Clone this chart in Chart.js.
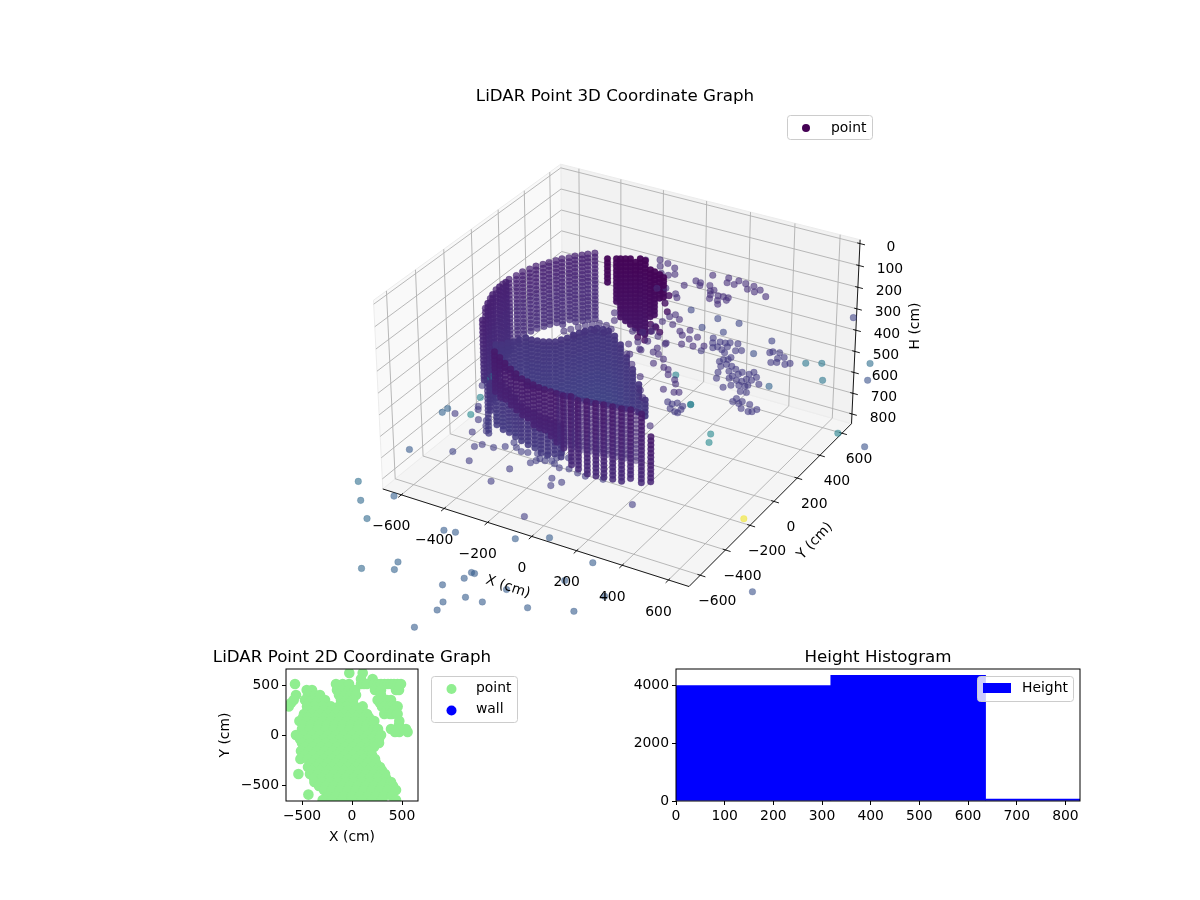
<!DOCTYPE html>
<html>
<head>
<meta charset="utf-8">
<title>LiDAR Point Graphs</title>
<script src="https://cdn.jsdelivr.net/npm/chart.js@4/dist/chart.umd.min.js"></script>
<style>
  body { margin: 0; background: #fff; }
  canvas { position: absolute; }
</style>
</head>
<body>
<canvas id="cloudChart" width="1200" height="637" style="left:0;top:0"></canvas>
<canvas id="planChart" width="380" height="230" style="left:160px;top:640px"></canvas>
<canvas id="histChart" width="520" height="230" style="left:600px;top:640px"></canvas>
<script>
// ---- data (cm) ----
const xTicks = [-600, -400, -200, 0, 200, 400, 600];
const yTicks = [-600, -400, -200, 0, 200, 400, 600];
const hTicks = [0, 100, 200, 300, 400, 500, 600, 700, 800];
const planTicks = [-500, 0, 500];
const histXTicks = [0, 100, 200, 300, 400, 500, 600, 700, 800];
const histYTicks = [0, 2000, 4000];
const scanLevels = [100, 118, 136, 154, 172, 190, 208, 226, 244, 262, 280, 298, 316, 334, 352, 370, 388, 406, 424, 442, 460, 478, 496, 514, 532, 550, 568, 586, 604, 622, 640, 658, 676, 694, 712];

// scan columns
const backWallX = [-271, -291, -307, -327, -340, -360, -372, -388, -400, -416, -425, -437, -441, -449, -449, -447, -428, -402];
const backWallY = [257, 236, 217, 196, 171, 150, 124, 97, 71, 44, 11, -23, -63, -104, -150, -203, -275, -352];
const backWallEnd = [415, 410, 410, 410, 405, 410, 405, 400, 395, 395, 390, 405, 420, 435, 460, 500, 585, 680];

const wallEdgeX = [-360, -415, -437, -448, -447];
const wallEdgeY = [-439, -314, -244, -176, -131];
const wallEdgeEnd = [378, 493, 493, 470, 433];

const discX = [-402, -382, -370, -354, -342, -329, -302, -278, -254, -234, -213, -201, -188, -180, -168, -156, -143, -127, -103, -76, -35, 20, 91, 158, 236, 315];
const discY = [-285, -274, -248, -230, -205, -180, -182, -177, -172, -161, -149, -124, -99, -67, -42, -16, 8, 27, 31, 30, 7, -42, -118, -188, -277, -367];
const discEnd = [366, 412, 439, 462, 493, 516, 516, 521, 521, 530, 539, 557, 571, 593, 612, 625, 643, 652, 657, 652, 639, 603, 548, 493, 434, 371];

const frontWallX = [-291, -250, -209, -167, -130, -91, -61, -31, -1, 25, 52, 78, 109, 137, 175, 207, 243, 273, 309, 345, 378, 428, 538];
const frontWallY = [-467, -495, -523, -550, -571, -592, -601, -609, -617, -619, -620, -622, -623, -614, -627, -616, -613, -605, -601, -597, -587, -593, -718];
const frontWallEnd = [395, 390, 386, 382, 382, 382, 386, 390, 395, 404, 412, 425, 447, 521, 530, 543, 543, 543, 543, 534, 530, 521, 417];

const frontFillX = [93, 123, 156, 191, 225, 258, 291, 327, 361, 403];
const frontFillY = [-622, -618, -620, -621, -614, -609, -603, -599, -592, -590];
const frontFillEnd = [424, 424, 424, 424, 424, 424, 424, 424, 424, 424];

const lowerBandX = [-377, -377, -336, -287, -234, -182, -144, -110, -69, -39, -5, 28];
const lowerBandY = [-373, -330, -349, -381, -420, -459, -472, -478, -498, -498, -504, -511];
const lowerBandEnd = [554, 641, 650, 637, 620, 598, 598, 598, 589, 589, 585, 585];

const blockX = [-203, -172, -158, -141, -124, -91, -90, -65, -8, 14, 43, 68];
const blockY = [240, 258, 266, 276, 286, 269, 305, 301, 243, 237, 226, 213];
const blockEnd = [225, 308, 378, 400, 415, 415, 456, 456, 322, 299, 225, 193];

// single returns
const upperHeight = 150;
const upperX = [183, 249, 262, 295, 293, 329, 368, 357, 404, 391, 448, 148, 171, 180, 126, 214, 238, 247, 253, 265, 283, 299, 315, 304, 325, 329,
  -113, -63, -21, -36, 22, 49, 30, -2, 45, 75, 131, 151, 214, 202, 197, 246, 243, 293, 323, 316, 354, 374, 348, 393, 429, 294, 240, 225, 196, 200,
  173, 136, 191, 2, 33, 173, 237, 216, 283, 310, 345, 328, 262, 399, 293, 206, 229, 285, 377, 418, 458, 476, 456, 501, 517, 335, 386, 420, 544];
const upperY = [407, 418, 380, 417, 381, 410, 406, 372, 390, 366, 353, 332, 328, 306, 276, 326, 285, 299, 258, 229, 266, 231, 204, 270, 272, 249,
  389, 418, 407, 371, 386, 339, 319, 319, 201, 219, 197, 172, 47, 22, -26, 21, -27, -60, -34, -83, -97, -68, -146, -138, -117, -177, -137, -190, -215, -114,
  -138, -151, -74, -58, -112, -246, -263, -312, -219, -258, -282, -328, -376, -342, -168, -317, -259, -254, -336, -376, -398, -423, -480, -480, -471, -441, -529, -572, -735];

const paleX = [248, 371, 460, 352, 441];
const paleY = [111, 101, 108, 9, 16];

const ledgeX = [515, 537, 550, 584, 572, 585, 546, 578];
const ledgeY = [-553, -559, -543, -577, -602, -604, -590, -553];

const lobeX = [169, 196, 198, 230, 211, 177, 175, 133, 116];
const lobeY = [-69, -116, -79, -106, -189, -182, 52, 109, 171];

const seamX = [-92, -77, -60, -45, -25, -6, 26, 57, -38, -21, 5, 46];
const seamY = [-282, -256, -228, -201, -181, -160, -161, -178, -297, -250, -217, -212];

const midHeight = 415;
const midX = [211, 228, 250, 260, 272, 288, 319, 247, 286, 294, 337, 357, 307, 219, 462, 469, 496, 529, 510, 502, 522, 557, 571,
  323, 346, 359, 329, 345, 347, 358, 383, 408, 392, 435, 422, 441, 472, 481, 508, 502, 481, 473, 451, 419, 376, 432, 451, 478, 502, 508, 541, 505, 529,
  516, 518, 548, 583, 569, 603, 616, 625, 543, -385, -312, -300, -258, -228, -209, -229, -187, -147, -360];
const midY = [368, 332, 353, 313, 356, 367, 375, 298, 301, 333, 321, 334, 285, 253, 375, 388, 394, 369, 349, 307, 319, 321, 338,
  213, 181, 134, 235, 244, 264, 206, 203, 190, 163, 160, 135, 181, 181, 204, 174, 144, 141, 117, 114, 114, 90, 40, 69, 84, 89, 102, 131, 45, 50,
  -38, -11, -20, -25, -69, -76, -69, -46, -40, -416, -559, -579, -643, -634, -667, -732, -699, -791, -649];

const floorHeight = 700;
const floorX = [-418, -378, -349, -313, -209, -223, -163, -31, -7, 17, -299, -238, -271, -212, -175, -147, -135, -99, -94, -97, -46, -54, -9, -152, -122, -78, 35, 73, 144, 21];
const floorY = [-433, -534, -402, -373, -507, -620, -428, -484, -532, -491, -330, -374, -357, -367, -355, -383, -350, -373, -344, -301, -404, -321, -392, -403, -386, -387, -401, -406, -392, -771];

const farX = [-190, -145, 73, 180, 406, 377, 555, 54, 67, 51, 6, 68, 78, 122, 191, 224, 352, 508, 67, 806];
const farY = [-1004, -994, -920, -850, -915, -1068, -1084, -1194, -1194, -1239, -1315, -1407, -1461, -1341, -1336, -1224, -1286, -1222, -1592, -1262];

const strayX = [624, 679, 742, 844, 894, 621, 583, 425, 410, 387, 387, 226, 559, 583, 972, 1103, 747, 333, 1005, -398, -390, -342, -304, -407, -405, -627, -471, -666, -580, -487, -486, -311, -219, -202];
const strayY = [370, 401, 282, 495, 370, 802, 136, 464, 336, -139, -139, 33, -295, -352, -49, -88, -370, -494, -790, -371, -339, -497, -625, -666, -631, -580, -508, -877, -986, -897, -1081, -1373, -1270, -1319];
const strayH = [415, 415, 415, 415, 415, 415, 415, 415, 415, 415, 415, 415, 415, 415, 415, 415, 700, 700, 700, 415, 415, 415, 415, 415, 415, 700, 700, 700, 700, 700, 700, 700, 700, 700];
const strayValue = [0.39, 0.4, 0.39, 0.36, 0.25, 0.2, 0.32, 0.2, 0.24, 0.44, 0.42, 0.44, 0.46, 0.47, 0.44, 0.25, 0.98, 0.18, 0.25, 0.39, 0.37, 0.44, 0.47, 0.31, 0.32, 0.28, 0.2, 0.36, 0.34, 0.3, 0.34, 0.33, 0.31, 0.31];

// top view
const planRowY = [620, 560, 510, 450, 400, 350, 320, 286, 250, 210, 175, 140, 100, 60, 30, 0, -40, -80, -120, -160, -200, -240, -280, -320, -355, -390, -430, -470, -510, -550, -596, -610, -650];
const planRowX = [
  [-27, 107],
  [90, 206],
  [-570, -160, -93, -30, 90, 120, 150, 220, 255, 290, 325, 360, 390, 420, 455, 490],
  [-453, -400, -150, -90, -30, 30, 230, 290, 440, 470],
  [-560, -440, -370, -320, -130, -70, -10, 40, 290],
  [-583, -470, -400, -380, -330, -270, -110, -50, 10, 256, 320, 350, 390],
  [-610, -430, -360, -80, -20, 280],
  [-633, -450, -370, -290, -210, -130, -50, 30, 107, 300, 330, 380, 400, 430, 456],
  [-440, -360, -280, -200, -120, -40, 40, 350, 420],
  [-480, -400, -320, -240, -160, -80, 0, 80, 150, 323, 380, 400, 450, 456],
  [-490, -440, -360, -280, -200, -120, -40, 40, 120, 170],
  [-526, -450, -370, -290, -210, -130, -50, 30, 110, 190, 223, 473],
  [-490, -410, -330, -250, -170, -90, -10, 70, 150, 210, 470],
  [-500, -420, -340, -260, -180, -100, -20, 60, 140, 220, 260, 390, 470, 540],
  [473, 556, 430],
  [-560, -480, -400, -320, -240, -160, -80, 0, 80, 160, 240, 290],
  [-520, -440, -360, -280, -200, -120, -40, 40, 120, 200, 270],
  [-500, -420, -340, -260, -180, -100, -20, 60, 140, 220, 270],
  [-470, -390, -310, -230, -150, -70, 10, 90, 170, 220],
  [-510, -430, -350, -270, -190, -110, -30, 50, 130, 170],
  [-470, -390, -310, -230, -150, -70, 10, 90, 170, 200],
  [-516, -440, -360, -280, -200, -120, -40, 40, 120, 190, 230],
  [-400, -320, -240, -160, -80, 0, 80, 160, 240],
  [-440, -360, -280, -200, -120, -40, 40, 120, 200, 280],
  [-400, -320, -240, -160, -80, 0, 80, 160, 240, 300],
  [-536, -420, -340, -260, -180, -100, -20, 60, 140, 220, 290, 330],
  [-380, -300, -220, -140, -60, 20, 100, 180, 260, 340],
  [-376, -300, -220, -140, -60, 20, 100, 180, 260, 340, 390],
  [-330, -260, -180, -100, -20, 60, 140, 220, 300, 380, 410],
  [-280, -200, -120, -40, 40, 120, 200, 280, 360, 440],
  [-436],
  [-240, -160, -80, 0, 80, 160, 240, 320, 400],
  [-293, -200, -100, 0, 100, 200, 300, 440]
];

// height histogram
const binCenters = [159, 477, 795];
const binCounts = [3990, 4344, 70];
const binWidth = 318;

// ---- viridis ----
const viridis = [[68, 1, 84], [72, 36, 117], [65, 68, 135], [53, 95, 141], [42, 120, 142], [33, 145, 140], [34, 168, 132], [68, 191, 112], [122, 209, 81], [189, 223, 38], [253, 231, 37]];
function viridisColor(v, alpha) {
  const t = Math.min(Math.max(v, 0), 1) * 10;
  const i = Math.min(Math.floor(t), 9);
  const c = viridis[i].map((n, k) => Math.round(n + (viridis[i + 1][k] - n) * (t - i)));
  return `rgba(${c[0]},${c[1]},${c[2]},${alpha})`;
}

// ---- 3D view, elev 30 azim -60 ----
const xLim = [-687.5, 687.5], yLim = [-687.5, 687.5], hLim = [-17.3, 847.3];
function project(x, y, h) {
  const wx = x / 687.5 * 0.6, wy = y / 687.5 * 0.6, wz = (415 - h) / 432.3 * 0.375;
  const u = 0.866 * wx + 0.5 * wy;
  const v = -0.25 * wx + 0.433 * wy + 0.866 * wz;
  const w = 0.433 * wx - 0.75 * wy + 0.5 * wz;
  return { x: u / (10 - w), y: v / (10 - w), depth: w };
}
const gap = { x: NaN, y: NaN };
function path(pts) { return pts.map(p => { const q = project(p[0], p[1], p[2]); return { x: q.x, y: q.y }; }); }

const cloud = [];
function addPoints(xs, ys, h, value, alpha = 0.6) {
  xs.forEach((x, i) => {
    const hi = Array.isArray(h) ? h[i] : h;
    const vi = Array.isArray(value) ? value[i] : value;
    cloud.push(Object.assign(project(x, ys[i], hi), { value: vi, alpha }));
  });
}
function addColumns(xs, ys, top, ends, value, alpha) {
  xs.forEach((x, i) => {
    scanLevels.filter(h => h >= top && h <= ends[i]).forEach(h => {
      cloud.push(Object.assign(project(x, ys[i], h), { value: value + (h - top) * 0.00015, alpha }));
    });
  });
}
addColumns(backWallX, backWallY, 100, backWallEnd, 0.09, 0.72);
addColumns(wallEdgeX, wallEdgeY, 100, wallEdgeEnd, 0.09, 0.85);
addColumns(discX, discY, 298, discEnd, 0.15, 0.92);
addColumns(frontWallX, frontWallY, 208, frontWallEnd, 0.07, 0.85);
addColumns(frontFillX, frontFillY, 208, frontFillEnd, 0.1, 0.5);
addColumns(lowerBandX, lowerBandY, 424, lowerBandEnd, 0.14, 0.85);
addColumns(blockX, blockY, 100, blockEnd, 0.01, 0.95);
addPoints(lobeX, lobeY, upperHeight, 0.04, 0.8);
addPoints(seamX, seamY, upperHeight, 0.14);
addPoints(upperX, upperY, upperHeight, 0.13);
addPoints(paleX, paleY, upperHeight, 0.21);
addPoints(ledgeX, ledgeY, upperHeight, 0.17);
addPoints(midX, midY, midHeight, 0.17);
addPoints(floorX, floorY, floorHeight, 0.18);
addPoints(farX, farY, floorHeight, 0.29);
addPoints(strayX, strayY, strayH, strayValue);
cloud.sort((a, b) => a.depth - b.depth);

const gridLines = [];
xTicks.forEach(t => gridLines.push(...path([[t, yLim[0], hLim[1]], [t, yLim[1], hLim[1]], [t, yLim[1], hLim[0]]]), gap));
yTicks.forEach(t => gridLines.push(...path([[xLim[1], t, hLim[1]], [xLim[0], t, hLim[1]], [xLim[0], t, hLim[0]]]), gap));
hTicks.forEach(t => gridLines.push(...path([[xLim[0], yLim[0], t], [xLim[0], yLim[1], t], [xLim[1], yLim[1], t]]), gap));

const axisLines = path([[xLim[0], yLim[0], hLim[1]], [xLim[1], yLim[0], hLim[1]], [xLim[1], yLim[1], hLim[1]], [xLim[1], yLim[1], hLim[0]]]);
axisLines.push(gap);
xTicks.forEach(t => axisLines.push(...path([[t, yLim[0] - 22, hLim[1]], [t, yLim[0] + 12, hLim[1]]]), gap));
yTicks.forEach(t => axisLines.push(...path([[xLim[1] - 12, t, hLim[1]], [xLim[1] + 22, t, hLim[1]]]), gap));
hTicks.forEach(t => axisLines.push(...path([[xLim[1] - 12, yLim[1], t], [xLim[1] + 22, yLim[1], t]]), gap));

function pane(corners, color) {
  const pts = path(corners);
  pts.push(pts[0]);
  return { data: pts, showLine: true, pointRadius: 0, fill: 'shape', backgroundColor: color, borderColor: '#ececec', borderWidth: 1, order: 5 };
}

const FONT = '"DejaVu Sans"';
const TICK_PX = 13.9, TITLE_PX = 16.7;
function drawText(ctx, text, x, y, size, align, angle) {
  ctx.save();
  ctx.translate(x, y);
  ctx.rotate((angle || 0) * Math.PI / 180);
  ctx.font = `${size}px ${FONT}`;
  ctx.fillStyle = '#000';
  ctx.textAlign = align || 'center';
  ctx.textBaseline = 'middle';
  ctx.fillText(text, 0, 0);
  ctx.restore();
}
function legendBox(ctx, x, y, w, h) {
  ctx.save();
  ctx.beginPath();
  ctx.roundRect(x, y, w, h, 3);
  ctx.fillStyle = 'rgba(255,255,255,0.8)';
  ctx.fill();
  ctx.strokeStyle = '#cccccc';
  ctx.lineWidth = 1;
  ctx.stroke();
  ctx.restore();
}
function dot(ctx, x, y, r, color) {
  ctx.save();
  ctx.beginPath();
  ctx.arc(x, y, r, 0, Math.PI * 2);
  ctx.fillStyle = color;
  ctx.fill();
  ctx.restore();
}
const minusLabel = v => String(v).replace('-', '\u2212');

new Chart(document.getElementById('cloudChart'), {
  type: 'scatter',
  data: {
    datasets: [
      pane([[xLim[0], yLim[0], hLim[0]], [xLim[0], yLim[1], hLim[0]], [xLim[0], yLim[1], hLim[1]], [xLim[0], yLim[0], hLim[1]]], '#f9f9f9'),
      pane([[xLim[0], yLim[1], hLim[0]], [xLim[1], yLim[1], hLim[0]], [xLim[1], yLim[1], hLim[1]], [xLim[0], yLim[1], hLim[1]]], '#f2f2f2'),
      pane([[xLim[0], yLim[0], hLim[1]], [xLim[1], yLim[0], hLim[1]], [xLim[1], yLim[1], hLim[1]], [xLim[0], yLim[1], hLim[1]]], '#f5f5f5'),
      { data: gridLines, showLine: true, pointRadius: 0, borderColor: '#b0b0b0', borderWidth: 0.9, spanGaps: false, order: 3 },
      { data: axisLines, showLine: true, pointRadius: 0, borderColor: '#000', borderWidth: 0.9, spanGaps: false, order: 2 },
      {
        label: 'point',
        data: cloud.map(p => ({ x: p.x, y: p.y })),
        pointRadius: 3.3,
        pointBorderWidth: 0.7,
        pointBackgroundColor: cloud.map(p => viridisColor(p.value, p.alpha)),
        pointBorderColor: cloud.map(p => viridisColor(p.value, p.alpha * 0.6)),
        order: 1
      }
    ]
  },
  options: {
    responsive: false,
    animation: false,
    devicePixelRatio: 1,
    layout: { padding: 0 },
    plugins: { legend: { display: false }, tooltip: { enabled: false } },
    scales: {
      x: { display: false, min: -0.21182, max: 0.19704 },
      y: { display: false, min: -0.09347, max: 0.12543 }
    }
  },
  plugins: [{
    id: 'cloudText',
    afterDraw(chart) {
      const ctx = chart.ctx, sx = chart.scales.x, sy = chart.scales.y;
      const at = (x, y, h) => { const p = project(x, y, h); return [sx.getPixelForValue(p.x), sy.getPixelForValue(p.y)]; };
      drawText(ctx, 'LiDAR Point 3D Coordinate Graph', 615, 97, TITLE_PX);
      xTicks.forEach(t => { const p = at(t, yLim[0], hLim[1]); drawText(ctx, minusLabel(t), p[0] - 10, p[1] + 32, TICK_PX); });
      yTicks.forEach(t => { const p = at(xLim[1], t, hLim[1]); drawText(ctx, minusLabel(t), p[0] + 17, p[1] + 26, TICK_PX); });
      hTicks.forEach(t => { const p = at(xLim[1], yLim[1], t); drawText(ctx, minusLabel(t), p[0] + 31, p[1] + 4, TICK_PX); });
      drawText(ctx, 'X (cm)', 508, 587, TICK_PX, 'center', 18);
      drawText(ctx, 'Y (cm)', 815, 541, TICK_PX, 'center', -47);
      drawText(ctx, 'H (cm)', 915, 326, TICK_PX, 'center', -90);
      legendBox(ctx, 787.5, 115.5, 85, 24);
      dot(ctx, 806, 128, 4, viridisColor(0, 1));
      drawText(ctx, 'point', 831, 128, TICK_PX, 'left');
    }
  }]
});

function frameAndTitle(chart, title) {
  const ctx = chart.ctx, a = chart.chartArea;
  ctx.save();
  ctx.strokeStyle = '#000';
  ctx.lineWidth = 1;
  ctx.strokeRect(a.left, a.top, a.right - a.left, a.bottom - a.top);
  ctx.restore();
  drawText(ctx, title, (a.left + a.right) / 2, 18, TITLE_PX);
}
function axisOptions(min, max, tickValues, fitKey, fitSize) {
  return {
    type: 'linear',
    min, max,
    offset: false,
    afterFit: s => { s[fitKey] = fitSize; },
    afterBuildTicks: s => { s.ticks = tickValues.map(value => ({ value })); },
    grid: { offset: false, drawOnChartArea: false, drawTicks: true, tickLength: 4, tickColor: '#000', tickWidth: 1 },
    border: { display: false },
    ticks: {
      autoSkip: false, maxRotation: 0, padding: 3,
      color: '#000', font: { family: 'DejaVu Sans', size: TICK_PX },
      callback: minusLabel
    }
  };
}

const planPoints = [];
planRowY.forEach((y, r) => planRowX[r].forEach(x => planPoints.push({ x, y })));

new Chart(document.getElementById('planChart'), {
  type: 'scatter',
  data: {
    datasets: [
      { label: 'point', data: planPoints, pointRadius: 5.3, pointBorderWidth: 0, pointBackgroundColor: '#90ee90' },
      { label: 'wall', data: [], pointRadius: 5.3, pointBackgroundColor: '#0000ff' }
    ]
  },
  options: {
    responsive: false,
    animation: false,
    devicePixelRatio: 1,
    layout: { padding: { top: 29, right: 122, left: 0, bottom: 0 } },
    plugins: { legend: { display: false }, tooltip: { enabled: false } },
    scales: {
      x: axisOptions(-660, 660, planTicks, 'height', 69),
      y: axisOptions(-660, 660, planTicks, 'width', 126)
    }
  },
  plugins: [{
    id: 'planText',
    afterDraw(chart) {
      const ctx = chart.ctx;
      frameAndTitle(chart, 'LiDAR Point 2D Coordinate Graph');
      drawText(ctx, 'X (cm)', 192, 197, TICK_PX);
      drawText(ctx, 'Y (cm)', 65, 95, TICK_PX, 'center', -90);
      legendBox(ctx, 271.5, 36.5, 86, 46);
      dot(ctx, 291.5, 49, 5, '#90ee90');
      dot(ctx, 291.5, 70.5, 5, '#0000ff');
      drawText(ctx, 'point', 316, 48, TICK_PX, 'left');
      drawText(ctx, 'wall', 316, 69, TICK_PX, 'left');
    }
  }]
});

new Chart(document.getElementById('histChart'), {
  type: 'bar',
  data: {
    datasets: [{
      label: 'Height',
      data: binCenters.map((c, i) => ({ x: c, y: binCounts[i] })),
      backgroundColor: '#0000ff',
      barThickness: binWidth / 830 * 404
    }]
  },
  options: {
    responsive: false,
    animation: false,
    devicePixelRatio: 1,
    layout: { padding: { top: 29, right: 40, left: 0, bottom: 0 } },
    plugins: { legend: { display: false }, tooltip: { enabled: false } },
    scales: {
      x: axisOptions(0, 830, histXTicks, 'height', 69),
      y: axisOptions(0, 4561, histYTicks, 'width', 76)
    }
  },
  plugins: [{
    id: 'histText',
    afterDraw(chart) {
      const ctx = chart.ctx;
      frameAndTitle(chart, 'Height Histogram');
      legendBox(ctx, 377.5, 36.5, 96, 25);
      ctx.fillStyle = '#0000ff';
      ctx.fillRect(383, 43, 28, 10);
      drawText(ctx, 'Height', 422, 48, TICK_PX, 'left');
    }
  }]
});
</script>
</body>
</html>
